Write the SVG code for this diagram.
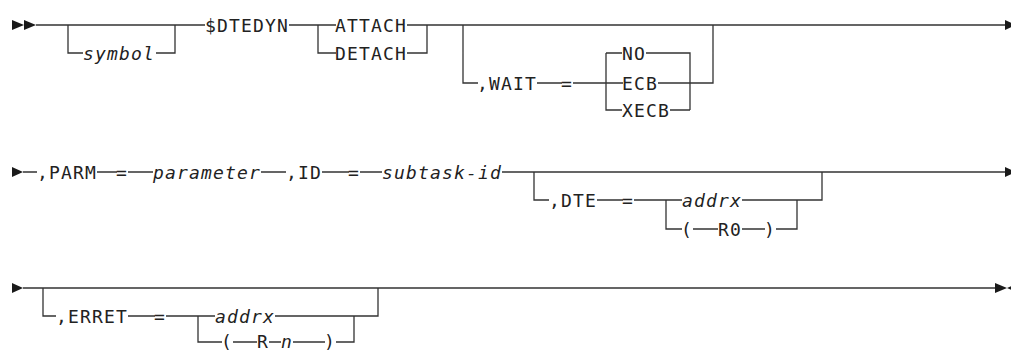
<svg xmlns="http://www.w3.org/2000/svg" width="1011" height="353" viewBox="0 0 1011 353">
<style>
.t{font-family:"DejaVu Sans Mono","Liberation Mono",monospace;font-size:18px;letter-spacing:1.16px;fill:#222}
.i{font-style:italic}
.c{fill:none;stroke:#333;stroke-width:1.3}
.a{fill:#1a1a1a}
</style>
<rect width="1011" height="353" fill="#fff"/>
<g id="connectors">
<path class="c" d="M36 25H205M68 25V53H83M156 53H175V25M289 25H318V53H336M318 25H336M407 25H1005M407 53H427V25M463 25V83H478M537 83H562M573 83H623M658 83H713V25M606 53V110H622M606 53H622M646 53H690V110M670 110H690"/>
<path class="c" d="M23 172H37M97 172H117M128 172H153M261 172H286M322 172H349M360 172H382M502 172H1005M534 172V200H549M597 200H623M634 200H682M742 200H822V172M666 200V229H682M693 229H718M742 229H765M776 229H797V200"/>
<path class="c" d="M23 288H995M43 288V316H56M128 316H155M166 316H215M275 316H378V288M198 316V342H222M233 342H257M269 342H281M293 342H325M336 342H354V316"/>
<polygon class="a" points="12,20 24,25 12,30"/>
<polygon class="a" points="24,20 36,25 24,30"/>
<polygon class="a" points="1005,20 1016,25 1005,30"/>
<polygon class="a" points="12,167 23,172 12,177"/>
<polygon class="a" points="1005,167 1016,172 1005,177"/>
<polygon class="a" points="12,283 23,288 12,293"/>
<polygon class="a" points="995,283 1007,288 995,293"/>
<polygon class="a" points="1019,283 1007,288 1019,293"/>
</g>
<g id="symbol"><text class="t i" x="83" y="59.5">symbol</text></g>
<g id="dtedyn"><text class="t" x="205" y="31.5">$DTEDYN</text></g>
<g id="attach"><text class="t" x="335" y="31.5">ATTACH</text></g>
<g id="detach"><text class="t" x="335" y="59.5">DETACH</text></g>
<g id="wait"><text class="t" x="477" y="89.5">,WAIT</text></g>
<g id="wait-eq"><text class="t" x="561" y="89.5">=</text></g>
<g id="no"><text class="t" x="622" y="59.5">NO</text></g>
<g id="ecb"><text class="t" x="622" y="89.5">ECB</text></g>
<g id="xecb"><text class="t" x="622" y="116.5">XECB</text></g>
<g id="parm"><text class="t" x="37" y="178.5">,PARM</text></g>
<g id="parm-eq"><text class="t" x="116" y="178.5">=</text></g>
<g id="parameter"><text class="t i" x="153" y="178.5">parameter</text></g>
<g id="id"><text class="t" x="286" y="178.5">,ID</text></g>
<g id="id-eq"><text class="t" x="348" y="178.5">=</text></g>
<g id="subtask-id"><text class="t i" x="382" y="178.5">subtask-id</text></g>
<g id="dte"><text class="t" x="549" y="206.5">,DTE</text></g>
<g id="dte-eq"><text class="t" x="622" y="206.5">=</text></g>
<g id="dte-addrx"><text class="t i" x="682" y="206.5">addrx</text></g>
<g id="dte-lp"><text class="t" x="681" y="235.5">(</text></g>
<g id="r0"><text class="t" x="718" y="235.5">R0</text></g>
<g id="dte-rp"><text class="t" x="764" y="235.5">)</text></g>
<g id="erret"><text class="t" x="56" y="322.5">,ERRET</text></g>
<g id="erret-eq"><text class="t" x="154" y="322.5">=</text></g>
<g id="erret-addrx"><text class="t i" x="215" y="322.5">addrx</text></g>
<g id="erret-lp"><text class="t" x="221" y="348">(</text></g>
<g id="r"><text class="t" x="257" y="348">R</text></g>
<g id="n"><text class="t i" x="281" y="348">n</text></g>
<g id="erret-rp"><text class="t" x="324" y="348">)</text></g>
</svg>
